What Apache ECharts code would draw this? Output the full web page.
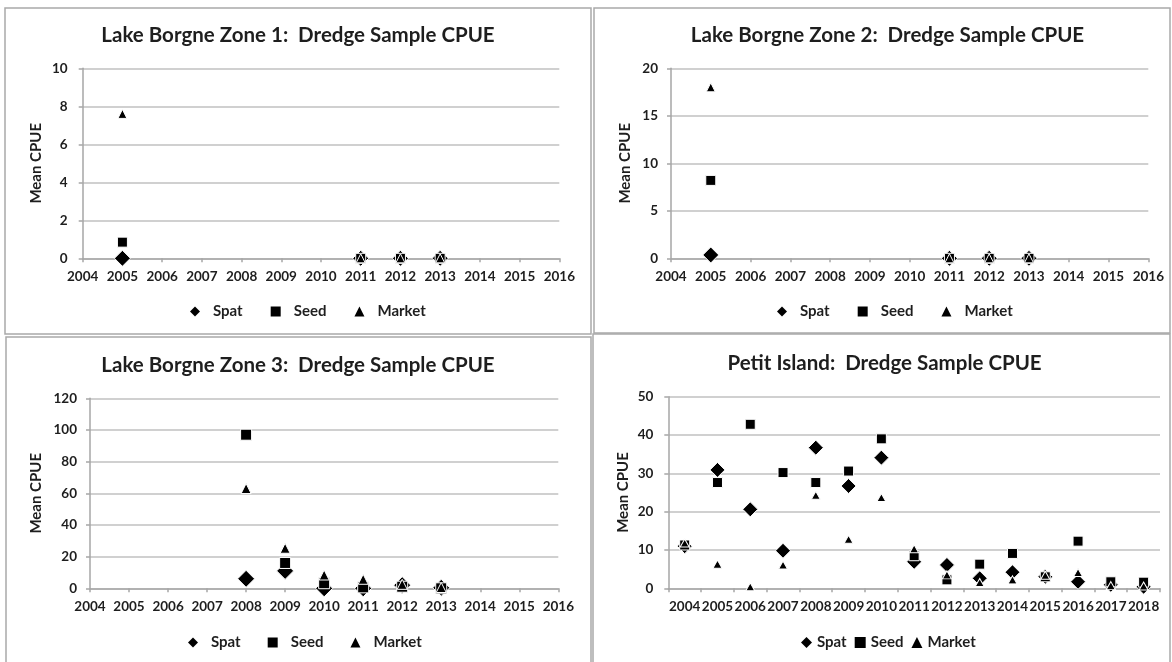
<!DOCTYPE html>
<html><head><meta charset="utf-8">
<script src="https://cdn.jsdelivr.net/npm/echarts@6/dist/echarts.min.js"></script>
<style>html,body{margin:0;padding:0;background:#fff}#c{width:1172px;height:662px}</style>
</head><body><div id="c"></div>
<script>
// ---- data ----
const titles = [
  'Lake Borgne Zone 1:  Dredge Sample CPUE',
  'Lake Borgne Zone 2:  Dredge Sample CPUE',
  'Lake Borgne Zone 3:  Dredge Sample CPUE',
  'Petit Island:  Dredge Sample CPUE'
];
const seriesNames = ['Spat', 'Seed', 'Market'];

const years1 = [2005, 2011, 2012, 2013];
const spat1 = [0, 0, 0, 0];
const seed1 = [0.85, 0, 0, 0];
const market1 = [7.6, 0, 0, 0];

const years2 = [2005, 2011, 2012, 2013];
const spat2 = [0.35, 0, 0, 0];
const seed2 = [8.2, 0, 0, 0];
const market2 = [18, 0, 0, 0];

const years3 = [2008, 2009, 2010, 2011, 2012, 2013];
const spat3 = [6, 11, 0, 0, 2, 0.3];
const seed3 = [97, 16, 3.2, 0.6, 1, 0];
const market3 = [63, 25.3, 8.4, 5.7, 2.5, 0.5];

const categories4 = ['2004','2005','2006','2007','2008','2009','2010','2011','2012','2013','2014','2015','2016','2017','2018'];
const spat4 = [11, 30.9, 20.6, 9.8, 36.7, 26.7, 34.1, 6.9, 6.1, 2.6, 4.2, 3.0, 1.7, 0.9, 0.4];
const seed4 = [11.3, 27.6, 42.8, 30.2, 27.6, 30.6, 39, 8.5, 2.2, 6.3, 9.1, 3.0, 12.3, 1.7, 1.6];
const market4 = [11.8, 6.3, 0.4, 6.1, 24.3, 12.8, 23.7, 10.3, 3.5, 1.5, 2.2, 3.4, 4.1, 0.7, 0.6];

const yearAxisMin = 2004, yearAxisMax = 2016;
const yMax = [10, 20, 120, 50];
const yStep = [2, 5, 20, 10];

// ---- styles ----
const FONT = 'Lato';
const TXT = '#1e1e1e';
const AXC = '#a6a6a6';
const GRC = '#c0c0c0';
const labelStyle = {color: TXT, fontFamily: FONT, fontWeight: 'bold', fontSize: 13.5};

const grids = [
  {left: 82.7, top: 68.3, width: 476.6, height: 190},
  {left: 671, top: 68.3, width: 477.3, height: 190},
  {left: 90, top: 398.3, width: 468.3, height: 190},
  {left: 668.3, top: 396.7, width: 491.7, height: 191.6}
];
const yLabelMargin = [15, 13, 13, 15];
const yNameGap = [39, 38, 46, 38];

const xAxes = [0,1,2].map(i => ({
  gridIndex: i, type: 'value', min: yearAxisMin, max: yearAxisMax, interval: 1,
  axisLine: {lineStyle: {color: AXC, width: 1.5}},
  axisTick: {show: true, length: 4, lineStyle: {color: AXC, width: 1.5}},
  splitLine: {show: false},
  axisLabel: Object.assign({margin: 11, formatter: v => String(v)}, labelStyle)
}));
xAxes.push({
  gridIndex: 3, type: 'category', data: categories4, boundaryGap: true,
  axisLine: {lineStyle: {color: AXC, width: 1.5}},
  axisTick: {show: true, length: 4, lineStyle: {color: AXC, width: 1.5}},
  splitLine: {show: false},
  axisLabel: Object.assign({margin: 11, interval: 0}, labelStyle)
});

const yAxes = [0,1,2,3].map(i => ({
  gridIndex: i, type: 'value', min: 0, max: yMax[i], interval: yStep[i],
  name: 'Mean CPUE', nameLocation: 'middle', nameRotate: 90, nameGap: yNameGap[i],
  nameTextStyle: {color: TXT, fontFamily: FONT, fontWeight: 'bold', fontSize: 15},
  axisLine: {show: true, lineStyle: {color: AXC, width: 1.5}},
  axisTick: {show: true, length: 4, lineStyle: {color: AXC, width: 1.5}},
  splitLine: {show: true, lineStyle: {color: GRC, width: 1.5}},
  axisLabel: Object.assign({margin: yLabelMargin[i]}, labelStyle)
}));

const symbols = ['diamond', 'rect', 'triangle'];
const sizes = [
  [16, 10, 9],
  [16, 10, 9],
  [17, 11, 10],
  [15, 10, [9, 8]]
];
const panelData = [
  [years1, [spat1, seed1, market1]],
  [years2, [spat2, seed2, market2]],
  [years3, [spat3, seed3, market3]],
  [categories4, [spat4, seed4, market4]]
];
const series = [];
panelData.forEach((pd, p) => {
  const xs = pd[0];
  pd[1].forEach((vals, k) => {
    series.push({
      type: 'scatter', name: seriesNames[k],
      xAxisIndex: p, yAxisIndex: p,
      symbol: symbols[k], symbolSize: sizes[p][k],
      itemStyle: {color: '#000', borderColor: '#fff', borderWidth: 1, opacity: 1},
      z: 2 + k,
      emphasis: {disabled: true},
      data: xs.map((x, i) => [x, vals[i]])
    });
  });
});

const titleCenters = [[298, 23], [887.5, 23], [298, 353], [884.6, 351]];
const title = titles.map((t, i) => ({
  text: t, left: titleCenters[i][0], top: titleCenters[i][1], textAlign: 'center', padding: 0,
  textStyle: {color: TXT, fontFamily: FONT, fontWeight: 'bold', fontSize: 20.5, lineHeight: 24}
}));

const legendData = seriesNames.map((n, k) => ({name: n, icon: symbols[k]}));
const legendPos = [
  {left: 190, top: 304, itemWidth: 10, itemHeight: 10, itemGap: 28, pad: 8},
  {left: 777, top: 304, itemWidth: 10, itemHeight: 10, itemGap: 28, pad: 8},
  {left: 188, top: 635, itemWidth: 10, itemHeight: 10, itemGap: 27, pad: 8},
  {left: 801, top: 635, itemWidth: 11, itemHeight: 11, itemGap: 8, pad: 0}
];
const legend = legendPos.map(lp => ({
  orient: 'horizontal', padding: 0, selectedMode: false, data: legendData,
  left: lp.left, top: lp.top, itemWidth: lp.itemWidth, itemHeight: lp.itemHeight, itemGap: lp.itemGap,
  itemStyle: {borderWidth: 0},
  textStyle: {color: TXT, fontFamily: FONT, fontWeight: 'bold', fontSize: 15, padding: [0, 0, 0, lp.pad]}
}));

const borders = [
  [5, 8, 586, 326],
  [594, 8, 576, 325],
  [6, 337, 585, 340],
  [593, 334, 577, 340]
];
const graphic = borders.map(b => ({
  type: 'rect', silent: true, z: -1,
  shape: {x: b[0], y: b[1], width: b[2], height: b[3]},
  style: {fill: null, stroke: '#a9a9a9', lineWidth: 1.5}
}));

const chart = echarts.init(document.getElementById('c'), null, {renderer: 'canvas'});
chart.setOption({
  animation: false,
  backgroundColor: '#fff',
  title, legend, grid: grids, xAxis: xAxes, yAxis: yAxes, series, graphic
});
</script></body></html>
